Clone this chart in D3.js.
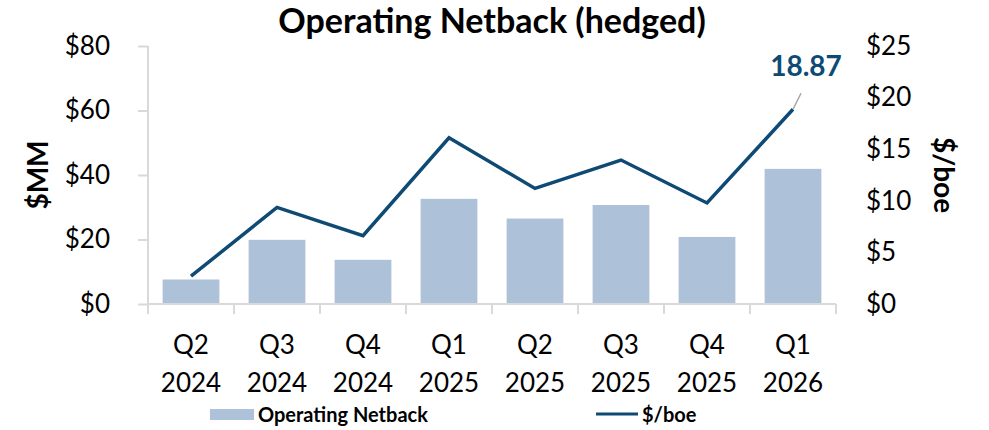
<!DOCTYPE html>
<html>
<head>
<meta charset="utf-8">
<script src="https://cdn.jsdelivr.net/npm/d3@7"></script>
<style>
  body { margin: 0; background: #fff; }
  svg text { font-family: Lato, "Open Sans", sans-serif; }
</style>
</head>
<body>
<div id="chart"></div>
<script>
const quarters = ['Q2', 'Q3', 'Q4', 'Q1', 'Q2', 'Q3', 'Q4', 'Q1'];
const years = ['2024', '2024', '2024', '2025', '2025', '2025', '2025', '2026'];
const netback = [7.6, 19.9, 13.7, 32.6, 26.5, 30.7, 20.8, 41.9];
const perBoe = [2.69, 9.36, 6.62, 16.1, 11.2, 13.95, 9.79, 18.87];
const leftTicks = [0, 20, 40, 60, 80];
const rightTicks = [0, 5, 10, 15, 20, 25];

const width = 989, height = 430;
const margin = { top: 46, right: 153, bottom: 126, left: 148 };
const innerW = width - margin.left - margin.right;
const innerH = height - margin.top - margin.bottom;

const barColor = '#adc1d9';
const lineColor = '#0e4a74';
const axisColor = '#d9d9d9';

const svg = d3.select('#chart')
  .append('svg')
  .attr('width', width)
  .attr('height', height);

const g = svg.append('g')
  .attr('transform', `translate(${margin.left},${margin.top})`);

const cats = d3.range(quarters.length);

// scales
const x = d3.scaleBand()
  .domain(cats)
  .range([0, innerW])
  .paddingInner(0.34)
  .paddingOuter(0.17);

const xCenter = (i) => x(i) + x.bandwidth() / 2;

const yLeft = d3.scaleLinear().domain([0, 80]).range([innerH, 0]);
const yRight = d3.scaleLinear().domain([0, 25]).range([innerH, 0]);

// bars
g.selectAll('.bar')
  .data(netback)
  .enter()
  .append('rect')
  .attr('class', 'bar')
  .attr('x', (d, i) => x(i))
  .attr('y', (d) => yLeft(d))
  .attr('width', x.bandwidth())
  .attr('height', (d) => innerH - yLeft(d))
  .attr('fill', barColor);

// left axis
const leftAxis = g.append('g')
  .call(d3.axisLeft(yLeft).tickValues(leftTicks).tickSize(10).tickPadding(28).tickFormat((d) => `$${d}`));
leftAxis.select('.domain').attr('stroke', axisColor).attr('stroke-width', 2).attr('d', `M0,0V${innerH}`);
leftAxis.selectAll('.tick line').attr('stroke', axisColor).attr('stroke-width', 2);
leftAxis.selectAll('.tick text').attr('font-size', 26).attr('fill', '#000');

// right axis (labels only)
const rightAxis = g.append('g')
  .attr('transform', `translate(${innerW},0)`)
  .call(d3.axisRight(yRight).tickValues(rightTicks).tickSize(0).tickPadding(30).tickFormat((d) => `$${d}`));
rightAxis.select('.domain').remove();
rightAxis.selectAll('.tick text').attr('font-size', 26).attr('fill', '#000');

// bottom axis: line, ticks at category boundaries, two-line labels
const bottomAxis = g.append('g')
  .attr('transform', `translate(0,${innerH})`);
bottomAxis.append('line')
  .attr('x1', 0).attr('x2', innerW)
  .attr('stroke', axisColor).attr('stroke-width', 2);
bottomAxis.selectAll('.xtick')
  .data(d3.range(quarters.length + 1))
  .enter()
  .append('line')
  .attr('class', 'xtick')
  .attr('x1', (d) => innerW * d / quarters.length)
  .attr('x2', (d) => innerW * d / quarters.length)
  .attr('y1', 0).attr('y2', 10)
  .attr('stroke', axisColor).attr('stroke-width', 2);

const labels = bottomAxis.selectAll('.xlabel')
  .data(cats)
  .enter()
  .append('text')
  .attr('class', 'xlabel')
  .attr('text-anchor', 'middle')
  .attr('font-size', 26)
  .attr('fill', '#000');
labels.append('tspan').attr('x', (d) => xCenter(d)).attr('y', 50).text((d) => quarters[d]);
labels.append('tspan').attr('x', (d) => xCenter(d)).attr('y', 88).text((d) => years[d]);

// line
const line = d3.line()
  .x((d, i) => xCenter(i))
  .y((d) => yRight(d));

g.append('path')
  .datum(perBoe)
  .attr('d', line)
  .attr('fill', 'none')
  .attr('stroke', lineColor)
  .attr('stroke-width', 3.5)
  .attr('stroke-linejoin', 'miter');

// data label for last point
const last = perBoe.length - 1;
const lx = xCenter(last), ly = yRight(perBoe[last]);
g.append('line')
  .attr('x1', lx).attr('y1', ly)
  .attr('x2', lx + 8).attr('y2', ly - 16)
  .attr('stroke', '#a6a6a6').attr('stroke-width', 1.5);
g.append('text')
  .attr('x', lx + 13)
  .attr('y', ly - 33)
  .attr('text-anchor', 'middle')
  .attr('font-size', 28)
  .attr('font-weight', 'bold')
  .attr('fill', lineColor)
  .text(perBoe[last].toFixed(2));

// title
svg.append('text')
  .attr('x', 492)
  .attr('y', 33)
  .attr('text-anchor', 'middle')
  .attr('font-size', 34)
  .attr('font-weight', 'bold')
  .text('Operating Netback (hedged)');

// axis titles
svg.append('text')
  .attr('transform', `translate(48,${margin.top + innerH / 2}) rotate(-90)`)
  .attr('text-anchor', 'middle')
  .attr('font-size', 28)
  .attr('font-weight', 'bold')
  .text('$MM');

svg.append('text')
  .attr('transform', `translate(934,${margin.top + innerH / 2}) rotate(90)`)
  .attr('text-anchor', 'middle')
  .attr('font-size', 28)
  .attr('font-weight', 'bold')
  .text('$/boe');

// legend
const legend = svg.append('g');
legend.append('rect')
  .attr('x', 210).attr('y', 409)
  .attr('width', 44).attr('height', 11)
  .attr('fill', barColor);
legend.append('text')
  .attr('x', 258).attr('y', 422)
  .attr('font-size', 20).attr('font-weight', 'bold')
  .text('Operating Netback');
legend.append('line')
  .attr('x1', 596).attr('x2', 638)
  .attr('y1', 414).attr('y2', 414)
  .attr('stroke', lineColor).attr('stroke-width', 3);
legend.append('text')
  .attr('x', 642).attr('y', 422)
  .attr('font-size', 20).attr('font-weight', 'bold')
  .text('$/boe');
</script>
</body>
</html>
